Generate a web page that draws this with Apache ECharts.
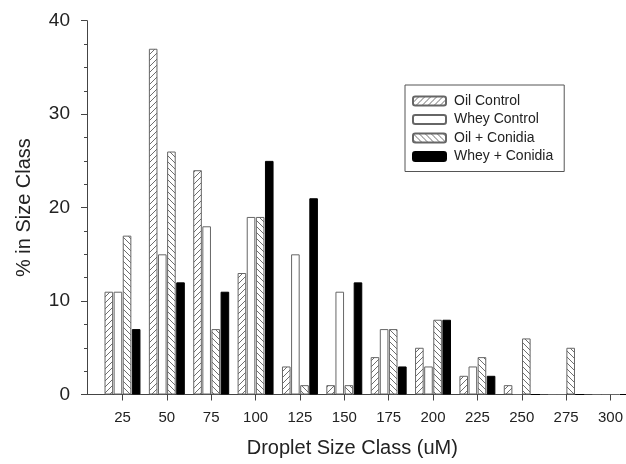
<!DOCTYPE html>
<html>
<head>
<meta charset="utf-8">
<script src="https://cdn.jsdelivr.net/npm/echarts@6/dist/echarts.min.js"></script>
<style>html,body{margin:0;padding:0;background:#fff;}#c{width:626px;height:464px;}</style>
</head>
<body>
<div id="c"></div>
<script>
const sizeClasses = [25, 50, 75, 100, 125, 150, 175, 200, 225, 250, 275, 300];
const oilControl   = [11, 37, 24, 13, 3, 1, 4, 5, 2, 1, 0, 0];
const wheyControl  = [11, 15, 18, 19, 15, 11, 7, 3, 3, 0, 0, 0];
const oilConidia   = [17, 26, 7, 19, 1, 1, 7, 8, 4, 6, 5, 0];
const wheyConidia  = [7, 12, 11, 25, 21, 12, 3, 8, 2, 0, 0, 0];
const yTicks = [0, 10, 20, 30, 40];

function hatch(dir) {
  const s = 6;
  const c = document.createElement('canvas');
  c.width = s; c.height = s;
  const g = c.getContext('2d');
  g.fillStyle = '#fff';
  g.fillRect(0, 0, s, s);
  g.strokeStyle = '#5e5e5e';
  g.lineWidth = 0.9;
  g.beginPath();
  if (dir === 'f') {
    g.moveTo(-1, s + 1); g.lineTo(s + 1, -1);
    g.moveTo(-1, 1); g.lineTo(1, -1);
    g.moveTo(s - 1, s + 1); g.lineTo(s + 1, s - 1);
  } else {
    g.moveTo(-1, -1); g.lineTo(s + 1, s + 1);
    g.moveTo(s - 1, -1); g.lineTo(s + 1, 1);
    g.moveTo(-1, s - 1); g.lineTo(1, s + 1);
  }
  g.stroke();
  return { image: c, repeat: 'repeat' };
}

const pair = arr => sizeClasses.map((x, i) => [x, arr[i]]);
const font = 'Liberation Sans, Arial, sans-serif';

const chart = echarts.init(document.getElementById('c'), null, { renderer: 'canvas' });
const barBase = { type: 'bar', barWidth: 8.6, barGap: '6%', animation: false };
chart.setOption({
  backgroundColor: '#fff',
  textStyle: { fontFamily: font, color: '#222' },
  grid: { left: 87, right: 6, top: 20.7, bottom: 69.5 },
  legend: {
    orient: 'vertical', left: 405, top: 85,
    borderColor: '#555', borderWidth: 1,
    padding: [9, 11, 8, 7],
    itemWidth: 33, itemHeight: 9, itemGap: 4.5,
    textStyle: { fontFamily: font, fontSize: 14, color: '#222', padding: [0, 0, 0, 3] },
    data: ['Oil Control', 'Whey Control', 'Oil + Conidia', 'Whey + Conidia']
  },
  xAxis: {
    type: 'value', min: 5, max: 304,
    name: 'Droplet Size Class (uM)', nameLocation: 'middle', nameGap: 44,
    nameTextStyle: { fontFamily: font, fontSize: 20, color: '#222' },
    axisLine: { show: true, lineStyle: { color: '#444', width: 1 } },
    axisTick: { show: true, length: 6, lineStyle: { color: '#444' }, customValues: sizeClasses },
    axisLabel: { fontFamily: font, fontSize: 15, color: '#222', margin: 16, customValues: sizeClasses },
    splitLine: { show: false }
  },
  yAxis: {
    type: 'value', min: 0, max: 40, interval: 10,
    name: '% in Size Class', nameLocation: 'middle', nameGap: 53,
    nameTextStyle: { fontFamily: font, fontSize: 20, color: '#222' },
    axisLine: { show: true, lineStyle: { color: '#444', width: 1 } },
    axisTick: { show: true, length: 6, lineStyle: { color: '#444' } },
    minorTick: { show: true, splitNumber: 4, length: 3, lineStyle: { color: '#444' } },
    axisLabel: { fontFamily: font, fontSize: 19, color: '#222', margin: 17,
      formatter: v => yTicks.includes(v) ? String(v) : '' },
    splitLine: { show: false }
  },
  series: [
    Object.assign({}, barBase, { name: 'Oil Control', data: pair(oilControl),
      itemStyle: { color: hatch('f'), borderColor: '#666', borderWidth: 1 } }),
    Object.assign({}, barBase, { name: 'Whey Control', data: pair(wheyControl),
      itemStyle: { color: '#fff', borderColor: '#666', borderWidth: 1 } }),
    Object.assign({}, barBase, { name: 'Oil + Conidia', data: pair(oilConidia),
      itemStyle: { color: hatch('b'), borderColor: '#666', borderWidth: 1 } }),
    Object.assign({}, barBase, { name: 'Whey + Conidia', data: pair(wheyConidia),
      itemStyle: { color: '#000', borderColor: '#000', borderWidth: 1 } })
  ]
});
</script>
</body>
</html>
